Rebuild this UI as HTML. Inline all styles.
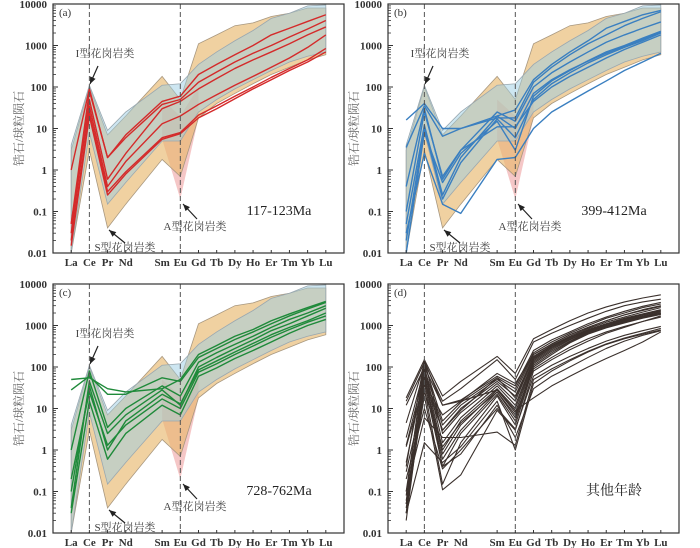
<!DOCTYPE html>
<html><head><meta charset="utf-8">
<style>
html,body{margin:0;padding:0;background:#fff;}
svg{display:block;}
text{font-family:"Liberation Serif","Noto Serif CJK SC",serif;}
</style></head>
<body>
<svg id="chart" width="700" height="548" viewBox="0 0 700 548" xmlns="http://www.w3.org/2000/svg"></svg>
<script>
const categories = ["La","Ce","Pr","Nd","Sm","Eu","Gd","Tb","Dy","Ho","Er","Tm","Yb","Lu"];
const catIndex = [0,1,2,3,5,6,7,8,9,10,11,12,13,14];
const yTickValues = [10000,1000,100,10,1,0.1,0.01];
const yTickLabels = ["10000","1000","100","10","1","0.1","0.01"];

const iTypeUpper = [4,110,9,25,110,120,350,700,1300,2300,4500,6000,9000,9500];
const iTypeLower = [0.01,8,0.15,0.5,5,5,25,50,90,150,250,400,550,700];
const sTypeUpper = [3,100,7,20,180,50,1100,1800,3000,3500,5000,6000,8000,8000];
const sTypeLower = [0.01,3,0.04,0.15,1.8,0.7,18,40,70,120,200,300,450,600];
const aTypeUpper = [50,20,100];
const aTypeLower = [5.5,0.2,18];

const redSeries = [
 [1,90,2,7,45,60,200,350,600,1000,1800,2600,3800,5500],
 [0.05,80,2,6,38,50,130,230,400,650,1000,1600,2500,4000],
 [0.03,50,0.6,2.5,30,45,90,160,280,450,700,1100,1800,2800],
 [0.05,35,0.4,1.6,13,20,38,65,110,180,300,500,900,1800],
 [0.02,25,0.3,0.9,6,8,21,35,60,100,170,280,450,850],
 [0.015,20,0.25,0.8,5.5,7.5,18,30,52,90,150,250,400,700]
];
const blueSeries = [
 [16,40,10,10,20,28,150,350,700,1300,2600,3800,5500,7000],
 [3.5,35,6.5,10,18,18,130,300,600,1100,1800,3000,4500,6500],
 [0.4,30,0.6,3,25,15,100,220,400,700,1200,1800,2600,3700],
 [0.05,12,0.25,2,20,10,70,150,260,420,650,950,1400,2100],
 [0.02,10,0.2,1.5,17,6,50,120,220,380,600,900,1300,2000],
 [0.03,2.5,0.15,0.09,1.8,2,10,25,45,80,140,250,400,650],
 [0.1,25,0.7,3,11,11,45,100,180,300,500,800,1200,1800],
 [0.01,8,0.5,2.5,15,3,60,140,250,430,700,1000,1500,2200]
];
const greenSeries = [
 [50,55,30,25,30,50,200,330,550,800,1300,1900,2700,3800],
 [28,60,22,22,55,45,170,280,460,700,1100,1700,2500,3600],
 [1,80,3.5,10,35,20,130,220,350,550,900,1400,2000,3000],
 [0.04,45,2.5,7,28,12,100,170,280,450,750,1100,1700,2600],
 [0.2,25,1.3,4,17,10,75,120,200,320,520,800,1200,1700],
 [0.03,15,0.6,2.5,12,7,60,95,160,250,400,650,1000,1400],
 [0.1,35,1,5,22,13,85,140,230,370,600,900,1300,2000]
];
const blackSeries = [
 [18,150,20,45,180,70,480,800,1300,2000,2800,3700,4600,5500],
 [15,130,15,30,150,50,400,650,1000,1500,2200,3000,3700,4300],
 [12,100,12,16,60,35,250,450,700,1100,1600,2200,2900,3600],
 [4.5,120,5,14,55,30,220,400,650,1000,1500,2000,2700,3300],
 [2,90,4,12,50,25,200,350,600,900,1300,1800,2400,3000],
 [1.3,70,3,10,45,20,180,330,550,850,1200,1600,2100,2700],
 [0.4,150,2.5,8,40,15,170,320,520,800,1100,1500,1900,2400],
 [0.1,100,1.5,6,35,12,150,300,500,750,1050,1400,1800,2200],
 [0.05,80,1,5,30,10,140,280,470,720,1000,1350,1700,2100],
 [0.03,60,0.8,4,28,8,130,260,450,700,980,1300,1650,2000],
 [0.02,50,0.6,3,25,6,120,240,420,680,950,1250,1600,1950],
 [0.04,40,0.4,2.5,22,5,110,220,400,650,900,1200,1550,1900],
 [0.03,30,0.15,1.5,20,4,100,200,380,620,880,1150,1500,1850],
 [0.05,20,0.11,0.25,9,3,80,150,260,420,650,900,1250,1700],
 [0.2,10,0.35,1,10,3.2,60,110,180,280,420,580,750,950],
 [0.1,6,2,2,2.7,1.3,50,90,150,240,360,500,650,850],
 [0.03,1.5,0.5,1.2,15,1,40,80,140,230,350,480,620,780],
 [0.3,25,1.2,4.5,25,7,90,170,300,480,700,950,1250,1600],
 [1.2,40,7,15,70,40,200,360,600,900,1300,1800,2300,2900],
 [0.06,45,3,9,55,18,160,300,500,780,1100,1450,1850,2300],
 [0.08,140,12,15,28,9,18,35,60,100,160,250,400,700],
 [0.5,70,0.4,0.8,12,2,30,60,100,170,280,420,580,750]
];

const NS = "http://www.w3.org/2000/svg";
const svg = document.getElementById("chart");
function mk(tag, attrs, parent){
  const e = document.createElementNS(NS, tag);
  for (const k in attrs) e.setAttribute(k, attrs[k]);
  (parent||svg).appendChild(e);
  return e;
}
const panels = [
 {id:"a", left:53, top:4, series:redSeries, color:"#d42a2a", env:true, age:"117-123Ma"},
 {id:"b", left:388, top:4, series:blueSeries, color:"#3a7fc0", env:true, age:"399-412Ma"},
 {id:"c", left:53, top:284, series:greenSeries, color:"#1f8a3a", env:true, age:"728-762Ma"},
 {id:"d", left:388, top:284, series:blackSeries, color:"#3a302c", env:false, age:"其他年龄"}
];
const W = 291, H = 249, STEP = W/16;

panels.forEach(p => {
  const g = mk("g", {});
  
  
  const xs = i => p.left + STEP*(catIndex[i]+1);
  const xi = idx => p.left + STEP*(idx+1);
  const ys = v => p.top + (4 - Math.log10(v)) * (H/6);
  const poly = (up, lo, xf) => {
    let pts = up.map((v,i)=>xf(i)+","+ys(v));
    for (let i=lo.length-1;i>=0;i--) pts.push(xf(i)+","+ys(lo[i]));
    return pts.join(" ");
  };
  if (p.env) {
    const e3 = mk("polygon", {points: poly(aTypeUpper, aTypeLower, i=>xs(i+4)), fill:"rgba(242,180,180,0.75)", stroke:"none"}, g);
    
    
    const e2 = mk("polygon", {points: poly(sTypeUpper, sTypeLower, xs), fill:"rgba(232,185,110,0.65)", stroke:"#a89880", "stroke-width":"0.8"}, g);
    
    
    const e1 = mk("polygon", {points: poly(iTypeUpper, iTypeLower, xs), fill:"rgba(155,205,228,0.5)", stroke:"#9aa8b0", "stroke-width":"0.8"}, g);
    
    
  }
  p.series.forEach((s, k) => {
    const l = mk("polyline", {points: s.map((v,i)=>xs(i)+","+ys(v)).join(" "), fill:"none", stroke:p.color, "stroke-width": p.env ? "1.4" : "1.1", "stroke-linejoin":"round"}, g);
    
    
  });
  [1,6].forEach(idx => {
    const d = mk("line", {x1:xi(idx), x2:xi(idx), y1:p.top, y2:p.top+H, stroke:"#555", "stroke-width":"1", "stroke-dasharray":"5,3"}, g);
    
    
  });
  const fr = mk("rect", {x:p.left, y:p.top, width:W, height:H, fill:"none", stroke:"#333", "stroke-width":"1.2"}, g);
  
  
  yTickValues.forEach((v,i) => {
    const y = ys(v);
    const t = mk("line", {x1:p.left, x2:p.left+5, y1:y, y2:y, stroke:"#333", "stroke-width":"1"}, g);
    
    
    const tl = mk("text", {x:p.left-6, y:y+4, "text-anchor":"end", "font-size":"11", "font-weight":"bold", fill:"#333"}, g);
    tl.textContent = yTickLabels[i];
    
    
    if (i < yTickValues.length-1) {
      for (let m=2;m<=9;m++){
        const my = ys(yTickValues[i+1]*m);
        const mt = mk("line", {x1:p.left, x2:p.left+3, y1:my, y2:my, stroke:"#333", "stroke-width":"0.8"}, g);
        
        
      }
    }
  });
  categories.forEach((c,i) => {
    const x = xs(i);
    const t = mk("line", {x1:x, x2:x, y1:p.top+H, y2:p.top+H-3, stroke:"#333", "stroke-width":"1"}, g);
    
    
    const tl = mk("text", {x:x, y:p.top+H+13, "text-anchor":"middle", "font-size":"11", "font-weight":"bold", fill:"#333"}, g);
    tl.textContent = c;
    
    
  });
  const yt = mk("text", {x:0, y:0, transform:"translate("+(p.left-30)+","+(p.top+H/2)+") rotate(-90)", "text-anchor":"middle", "font-size":"12", fill:"#666"}, g);
  yt.textContent = "锆石/球粒陨石";
  
  
  const pl = mk("text", {x:p.left+6, y:p.top+12, "font-size":"11", fill:"#333"}, g);
  pl.textContent = "(" + p.id + ")";
  
  
  const al = mk("text", {x:p.left+226, y:p.top+211, "text-anchor":"middle", "font-size":"14", fill:"#222"}, g);
  al.textContent = p.age;
  
  
  if (p.env) {
    const notes = [
      {t:"I型花岗岩类", tx:p.left+52, ty:p.top+53, ax1:p.left+45, ay1:p.top+62, ax2:p.left+37, ay2:p.top+80, n:'i-type-annotation'},
      {t:"S型花岗岩类", tx:p.left+72, ty:p.top+247, ax1:p.left+72, ay1:p.top+239, ax2:p.left+56, ay2:p.top+226, n:'s-type-annotation'},
      {t:"A型花岗岩类", tx:p.left+142, ty:p.top+226, ax1:p.left+144, ay1:p.top+215, ax2:p.left+130, ay2:p.top+200, n:'a-type-annotation'}
    ];
    notes.forEach(o => {
      const tx = mk("text", {x:o.tx, y:o.ty, "text-anchor":"middle", "font-size":"11", fill:"#444"}, g);
      tx.textContent = o.t;
      
      
      const ar = mk("line", {x1:o.ax1, y1:o.ay1, x2:o.ax2, y2:o.ay2, stroke:"#222", "stroke-width":"1.2"}, g);
      
      
      const ang = Math.atan2(o.ay2-o.ay1, o.ax2-o.ax1);
      const L = 7, Wd = 3;
      const bx = o.ax2 - L*Math.cos(ang), by = o.ay2 - L*Math.sin(ang);
      const pts = [o.ax2+","+o.ay2, (bx+Wd*Math.sin(ang))+","+(by-Wd*Math.cos(ang)), (bx-Wd*Math.sin(ang))+","+(by+Wd*Math.cos(ang))].join(" ");
      const ah = mk("polygon", {points:pts, fill:"#222"}, g);
      
      
    });
  }
});
</script>
</body></html>
